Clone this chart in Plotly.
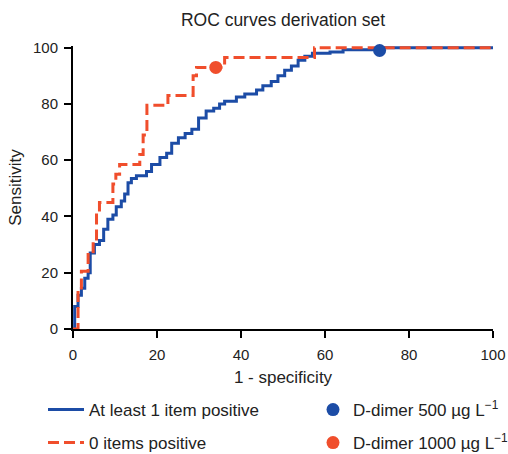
import plotly.graph_objects as go

# ---- data ----
zero_x = [0, 1.2, 2.0, 3.6, 4.8, 5.6, 6.3, 9.5, 10.2, 11.1, 15.9, 16.7, 17.6, 22.6, 28.6, 29.4, 36.1, 57.5, 100]
zero_y = [0, 14, 20.5, 27.5, 31, 41.5, 45, 51.5, 55, 58.5, 62, 69, 79.5, 83, 90, 93, 96.5, 100, 100]

one_x = [0, 0.4, 1.2, 2.0, 2.8, 3.6, 4.1, 5.1, 6.3, 7.3, 8.3, 9.5, 10.3, 11.5, 12.3, 13.1, 13.9, 15.1,
         17.5, 18.7, 20.7, 22.3, 23.5, 25.1, 26.7, 28.3, 29.9, 31.7, 33.5, 34.9, 36.1, 38.9, 40.9, 43.7,
         45.2, 47.2, 48.8, 50.4, 52.0, 53.6, 55.2, 57.0, 61.2, 64.3, 73.0, 100]
one_y = [0, 8, 12, 14.5, 18, 20, 27, 30, 31.5, 35.5, 39, 40.5, 43.5, 45.5, 48, 52, 53.5, 54.5,
         56, 58.5, 61, 62.5, 66, 68, 69.5, 71, 75, 77.5, 78.5, 80, 81, 82.5, 83.5, 85,
         86.5, 88, 90, 92, 93.5, 95.5, 97, 98, 98.5, 99.3, 100, 100]

dd500 = (73, 99)
dd1000 = (34, 93)

x_ticks = [0, 20, 40, 60, 80, 100]
y_ticks = [0, 20, 40, 60, 80, 100]

BLUE = "#1c4ca6"
RED = "#f04e2c"
FONT = "Liberation Sans, Arial, Helvetica, sans-serif"
TXT = "#222"

fig = go.Figure()
fig.add_trace(go.Scatter(x=one_x, y=one_y, mode="lines", line=dict(color=BLUE, width=3, shape="hv"),
                         name="At least 1 item positive", legend="legend"))
fig.add_trace(go.Scatter(x=zero_x, y=zero_y, mode="lines",
                         line=dict(color=RED, width=3, shape="hv", dash="11px,5px"),
                         name="0 items positive", legend="legend2"))
fig.add_trace(go.Scatter(x=[dd500[0]], y=[dd500[1]], mode="markers",
                         marker=dict(color=BLUE, size=13), cliponaxis=False,
                         name="D-dimer 500 µg L<sup>−1</sup>", legend="legend3"))
fig.add_trace(go.Scatter(x=[dd1000[0]], y=[dd1000[1]], mode="markers",
                         marker=dict(color=RED, size=13), cliponaxis=False,
                         name="D-dimer 1000 µg L<sup>−1</sup>", legend="legend4"))

axis_common = dict(showline=True, linecolor="black", linewidth=2, ticks="outside", ticklen=7,
                   tickwidth=2, tickcolor="black", showgrid=False, zeroline=False, automargin=False,
                   tickfont=dict(family=FONT, size=15, color=TXT), mirror=False)


def leg(x_px, y_px, itemwidth=30):
    return dict(orientation="h", xref="container", yref="container", x=x_px / 508, y=1 - y_px / 454,
                xanchor="left", yanchor="middle", font=dict(family=FONT, size=17, color=TXT),
                itemwidth=itemwidth, bgcolor="rgba(0,0,0,0)")


fig.update_layout(
    width=508, height=454,
    margin=dict(l=73, r=15, t=46, b=125, autoexpand=False),
    plot_bgcolor="white", paper_bgcolor="white",
    title=dict(text="ROC curves derivation set", x=0.5, xref="paper", xanchor="center",
               y=1 - 20 / 454, yref="container", yanchor="middle",
               font=dict(family=FONT, size=17.5, color=TXT)),
    xaxis=dict(range=[0, 100], tickvals=x_ticks, ticklabelstandoff=4,
               title=dict(text="1 - specificity", font=dict(family=FONT, size=17, color=TXT), standoff=9),
               **axis_common),
    yaxis=dict(range=[0, 100.6], tickvals=y_ticks, ticklabelstandoff=3,
               title=dict(text="Sensitivity", font=dict(family=FONT, size=17, color=TXT), standoff=7),
               **axis_common),
    legend=leg(43, 410, 36),
    legend2=leg(43, 443, 36),
    legend3=leg(313, 410),
    legend4=leg(313, 443),
    showlegend=True,
)

fig.write_html("out.html")
